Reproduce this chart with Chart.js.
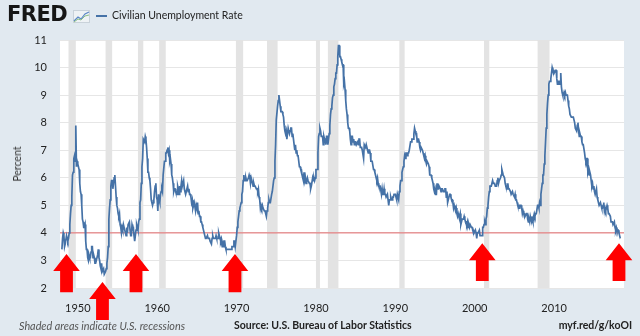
<!DOCTYPE html>
<html>
<head>
<meta charset="utf-8">
<script src="https://cdn.jsdelivr.net/npm/chart.js@4"></script>
<style>
  html, body { margin: 0; padding: 0; background: #e1e9f0; }
  #wrap { position: relative; width: 640px; height: 336px; overflow: hidden; background: #e1e9f0; font-family: Lato, "Open Sans", sans-serif; color: #222; }
  #chart { position: absolute; left: 0; top: 0; }
  .abs { position: absolute; white-space: nowrap; }
  #logo { left: 7px; top: 2px; font: bold 21px "DejaVu Sans", sans-serif; color: #161616; letter-spacing: -0.5px; }
  #icon { left: 73px; top: 10px; }
  #legLine { left: 96px; top: 15px; width: 11px; height: 2px; background: #4572a7; }
  #legText { left: 112px; top: 9px; font-size: 10.5px; color: #222; }
  #ylab { left: 17px; top: 164px; font-size: 10.5px; color: #333; transform: translate(-50%, -50%) rotate(-90deg); }
  #note { left: 19px; top: 319px; font-size: 10.8px; font-style: italic; color: #555; }
  #source { left: 234px; top: 319px; font-size: 10.5px; font-weight: bold; color: #222; }
  #link { right: 8px; top: 319px; font-size: 10.5px; font-weight: bold; color: #222; }
</style>
</head>
<body>
<div id="wrap">
  <canvas id="chart" width="640" height="336"></canvas>
  <div class="abs" id="logo">FRED</div>
  <svg class="abs" id="icon" width="17" height="13" viewBox="0 0 17 13">
    <rect x="0.5" y="0.5" width="16" height="12" fill="#eef2f5" stroke="#c9d2da"/>
    <polyline points="1,11 5,7 8,9 12,4 16,2" fill="none" stroke="#5b87c5" stroke-width="1.2"/>
    <polyline points="1,12 5,9 8,10 12,6 16,5" fill="none" stroke="#8cc084" stroke-width="1"/>
  </svg>
  <div class="abs" id="legLine"></div>
  <div class="abs" id="legText">Civilian Unemployment Rate</div>
  <div class="abs" id="ylab">Percent</div>
  <div class="abs" id="note">Shaded areas indicate U.S. recessions</div>
  <div class="abs" id="source">Source: U.S. Bureau of Labor Statistics</div>
  <div class="abs" id="link">myf.red/g/koOI</div>
</div>
<script>
// monthly unemployment rate (%), starting Jan 1948
const startYear = 1948;
const rate1940s = [
  3.4,3.8,4.0,3.9,3.5,3.6,3.6,3.9,3.8,3.7,3.8,4.0,
  4.3,4.7,5.0,5.3,6.1,6.2,6.7,6.8,6.6,7.9,6.4,6.6
];
const rate1950s = [
  6.5,6.4,6.3,5.8,5.5,5.4,5.0,4.5,4.4,4.2,4.2,4.3,
  3.7,3.4,3.4,3.1,3.0,3.2,3.1,3.1,3.3,3.5,3.5,3.1,
  3.2,3.1,2.9,2.9,3.0,3.0,3.2,3.4,3.1,3.0,2.8,2.7,
  2.9,2.6,2.6,2.7,2.5,2.5,2.6,2.7,2.9,3.1,3.5,4.5,
  4.9,5.2,5.7,5.9,5.9,5.6,5.8,6.0,6.1,5.7,5.3,5.0,
  4.9,4.7,4.6,4.7,4.3,4.2,4.0,4.2,4.1,4.3,4.2,4.2,
  4.0,3.9,4.2,4.0,4.3,4.3,4.4,4.1,3.9,3.9,4.3,4.2,
  4.2,3.9,3.7,3.9,4.1,4.3,4.2,4.1,4.4,4.5,5.1,5.2,
  5.8,6.4,6.7,7.4,7.4,7.3,7.5,7.4,7.1,6.7,6.2,6.2,
  6.0,5.9,5.6,5.2,5.1,5.0,5.1,5.2,5.5,5.7,5.8,5.3
];
const rate1960s = [
  5.2,4.8,5.4,5.2,5.1,5.4,5.5,5.6,5.5,6.1,6.1,6.6,
  6.6,6.9,6.9,7.0,7.1,6.9,7.0,6.6,6.7,6.5,6.1,6.0,
  5.8,5.5,5.6,5.6,5.5,5.5,5.4,5.7,5.6,5.4,5.7,5.5,
  5.7,5.9,5.7,5.7,5.9,5.6,5.6,5.4,5.5,5.5,5.7,5.5,
  5.6,5.4,5.4,5.3,5.1,5.2,4.9,5.0,5.1,5.1,4.8,5.0,
  4.9,5.1,4.7,4.8,4.6,4.6,4.4,4.4,4.3,4.2,4.1,4.0,
  4.0,3.8,3.8,3.8,3.9,3.8,3.8,3.8,3.7,3.7,3.6,3.8,
  3.9,3.8,3.8,3.8,3.8,3.9,3.8,3.8,3.8,4.0,3.9,3.8,
  3.7,3.8,3.7,3.5,3.5,3.7,3.7,3.5,3.4,3.4,3.4,3.4,
  3.4,3.4,3.4,3.4,3.4,3.5,3.5,3.5,3.7,3.7,3.5,3.5
];
const rate1970s = [
  3.9,4.2,4.4,4.6,4.8,4.9,5.0,5.1,5.4,5.5,5.9,6.1,
  5.9,5.9,6.0,5.9,5.9,5.9,6.0,6.1,6.0,5.8,6.0,6.0,
  5.8,5.7,5.8,5.7,5.7,5.7,5.6,5.6,5.5,5.6,5.3,5.2,
  4.9,5.0,4.9,5.0,4.9,4.9,4.8,4.8,4.8,4.6,4.8,4.9,
  5.1,5.2,5.1,5.1,5.1,5.4,5.5,5.5,5.9,6.0,6.6,7.2,
  8.1,8.1,8.6,8.8,9.0,8.8,8.6,8.4,8.4,8.4,8.3,8.2,
  7.9,7.7,7.6,7.7,7.4,7.6,7.8,7.8,7.6,7.7,7.8,7.8,
  7.5,7.6,7.4,7.2,7.0,7.2,6.9,7.0,6.8,6.8,6.8,6.4,
  6.4,6.3,6.3,6.1,6.0,5.9,6.2,5.9,6.0,5.8,5.9,6.0,
  5.9,5.9,5.8,5.8,5.6,5.7,5.7,6.0,5.9,6.0,5.9,6.0
];
const rate1980s = [
  6.3,6.3,6.3,6.9,7.5,7.6,7.8,7.7,7.5,7.5,7.5,7.2,
  7.5,7.4,7.4,7.2,7.5,7.5,7.2,7.4,7.6,7.9,8.3,8.5,
  8.6,8.9,9.0,9.3,9.4,9.6,9.8,9.8,10.1,10.4,10.8,10.8,
  10.4,10.4,10.3,10.2,10.1,10.1,9.4,9.5,9.2,8.8,8.5,8.3,
  8.0,7.8,7.8,7.7,7.4,7.2,7.5,7.5,7.3,7.4,7.2,7.3,
  7.3,7.2,7.2,7.3,7.2,7.4,7.4,7.1,7.1,7.1,7.0,7.0,
  6.7,7.2,7.2,7.1,7.2,7.2,7.0,6.9,7.0,7.0,6.9,6.6,
  6.6,6.6,6.6,6.3,6.3,6.2,6.1,6.0,5.9,6.0,5.8,5.7,
  5.7,5.7,5.7,5.4,5.6,5.4,5.4,5.6,5.4,5.4,5.3,5.3,
  5.4,5.2,5.0,5.2,5.2,5.3,5.2,5.2,5.3,5.3,5.4,5.4
];
const rate1990s = [
  5.4,5.3,5.2,5.4,5.4,5.2,5.5,5.7,5.9,5.9,6.2,6.3,
  6.4,6.6,6.8,6.7,6.9,6.9,6.8,6.9,6.9,7.0,7.0,7.3,
  7.3,7.4,7.4,7.4,7.6,7.8,7.7,7.6,7.6,7.3,7.4,7.4,
  7.3,7.1,7.0,7.1,7.1,7.0,6.9,6.8,6.7,6.8,6.6,6.5,
  6.6,6.6,6.5,6.4,6.1,6.1,6.1,6.0,5.9,5.8,5.6,5.5,
  5.6,5.4,5.4,5.8,5.6,5.6,5.7,5.7,5.6,5.5,5.6,5.6,
  5.6,5.5,5.5,5.6,5.6,5.3,5.5,5.1,5.2,5.2,5.4,5.4,
  5.3,5.2,5.2,5.1,4.9,5.0,4.9,4.8,4.9,4.7,4.6,4.7,
  4.6,4.6,4.7,4.3,4.4,4.5,4.5,4.5,4.6,4.5,4.4,4.4,
  4.3,4.4,4.2,4.3,4.2,4.3,4.3,4.2,4.2,4.1,4.1,4.0
];
const rate2000s = [
  4.0,4.1,4.0,3.8,4.0,4.0,4.0,4.1,3.9,3.9,3.9,3.9,
  4.2,4.2,4.3,4.4,4.3,4.5,4.6,4.9,5.0,5.3,5.5,5.7,
  5.7,5.7,5.7,5.9,5.8,5.8,5.8,5.7,5.7,5.7,5.9,6.0,
  5.8,5.9,5.9,6.0,6.1,6.3,6.2,6.1,6.1,6.0,5.8,5.7,
  5.7,5.6,5.8,5.6,5.6,5.6,5.5,5.4,5.4,5.5,5.4,5.4,
  5.3,5.4,5.2,5.2,5.1,5.0,5.0,4.9,5.0,5.0,5.0,4.9,
  4.7,4.8,4.7,4.7,4.6,4.6,4.7,4.7,4.5,4.4,4.5,4.4,
  4.6,4.5,4.4,4.5,4.4,4.6,4.7,4.6,4.7,4.7,4.7,5.0,
  5.0,4.9,5.1,5.0,5.4,5.6,5.8,6.1,6.1,6.5,6.8,7.3,
  7.8,8.3,8.7,9.0,9.4,9.5,9.5,9.6,9.8,10.0,9.9,9.9
];
const rate2010s = [
  9.8,9.8,9.9,9.9,9.6,9.4,9.4,9.5,9.5,9.4,9.8,9.3,
  9.1,9.0,9.0,9.1,9.0,9.1,9.0,9.0,9.0,8.8,8.6,8.5,
  8.3,8.3,8.2,8.2,8.2,8.2,8.2,8.0,7.8,7.8,7.7,7.9,
  8.0,7.7,7.5,7.6,7.5,7.5,7.3,7.2,7.2,7.2,6.9,6.7,
  6.6,6.7,6.7,6.2,6.3,6.1,6.2,6.1,5.9,5.7,5.8,5.6,
  5.7,5.5,5.4,5.4,5.6,5.3,5.2,5.1,5.0,5.0,5.1,5.0,
  4.9,4.9,5.0,5.1,4.8,4.9,4.8,4.9,5.0,4.9,4.7,4.7,
  4.7,4.6,4.4,4.4,4.4,4.3,4.3,4.4,4.2,4.1,4.2,4.1,
  4.1,4.1,4.0,3.9,3.8
];

const refLevel = 4;
const yearTicks = [1950, 1960, 1970, 1980, 1990, 2000, 2010];
const yTicks = [2, 3, 4, 5, 6, 7, 8, 9, 10, 11];
// NBER recessions, [start, end] in fractional years
const recessions = [
  [1948.83, 1949.75], [1953.5, 1954.33], [1957.58, 1958.25], [1960.25, 1961.08],
  [1969.92, 1970.83], [1973.83, 1975.17], [1980.0, 1980.5], [1981.5, 1982.83],
  [1990.5, 1991.17], [2001.17, 2001.83], [2007.92, 2009.42]
];
// red annotation arrows: year, tip value, tail value
const arrowYears = [1948.58, 1953.11, 1957.33, 1969.8, 2000.95, 2018.17];
const arrowTips  = [3.23, 2.22, 3.23, 3.23, 3.62, 3.62];
const arrowTails = [1.85, 0.84, 1.85, 1.85, 2.25, 2.25];

const xMin = 1947.76, xMax = 2018.8;

const rates = [].concat(rate1940s, rate1950s, rate1960s, rate1970s, rate1980s, rate1990s, rate2000s, rate2010s);
const points = rates.map((v, i) => ({ x: startYear + i / 12, y: v }));

const font = { family: 'Lato, "Open Sans", sans-serif', size: 11 };

const plotBg = {
  id: 'plotBg',
  beforeDraw(chart) {
    const { ctx, chartArea: a } = chart;
    ctx.save();
    ctx.fillStyle = '#ffffff';
    ctx.fillRect(a.left, a.top, a.right - a.left, a.bottom - a.top);
    ctx.restore();
  }
};

const shading = {
  id: 'shading',
  beforeDatasetsDraw(chart) {
    const { ctx, chartArea: a, scales: { x } } = chart;
    ctx.save();
    ctx.fillStyle = '#e3e3e3';
    recessions.forEach(([s, e]) => {
      const x0 = x.getPixelForValue(s), x1 = x.getPixelForValue(e);
      ctx.fillRect(x0, a.top, x1 - x0, a.bottom - a.top);
    });
    ctx.restore();
  }
};

const arrows = {
  id: 'arrows',
  afterDraw(chart) {
    const { ctx, scales: { x, y } } = chart;
    const headH = 17, headW = 13.3, shaftW = 6.4;
    ctx.save();
    ctx.fillStyle = '#ff0000';
    arrowYears.forEach((yr, i) => {
      const cx = x.getPixelForValue(yr);
      const tip = y.getPixelForValue(arrowTips[i]);
      const tail = y.getPixelForValue(arrowTails[i]);
      ctx.beginPath();
      ctx.moveTo(cx, tip);
      ctx.lineTo(cx + headW, tip + headH);
      ctx.lineTo(cx + shaftW, tip + headH);
      ctx.lineTo(cx + shaftW, tail);
      ctx.lineTo(cx - shaftW, tail);
      ctx.lineTo(cx - shaftW, tip + headH);
      ctx.lineTo(cx - headW, tip + headH);
      ctx.closePath();
      ctx.fill();
    });
    ctx.restore();
  }
};

new Chart(document.getElementById('chart'), {
  type: 'line',
  data: {
    datasets: [
      {
        data: points,
        borderColor: '#4572a7',
        borderWidth: 1.7,
        pointRadius: 0,
        tension: 0
      },
      {
        data: [{ x: xMin, y: refLevel }, { x: xMax, y: refLevel }],
        borderColor: '#e4686b',
        borderWidth: 1,
        pointRadius: 0
      }
    ]
  },
  options: {
    responsive: false,
    animation: false,
    layout: { padding: { top: 40, right: 16, left: 0, bottom: 0 } },
    plugins: { legend: { display: false }, tooltip: { enabled: false } },
    scales: {
      x: {
        type: 'linear',
        min: xMin,
        max: xMax,
        grid: { display: false },
        border: { display: false },
        ticks: { color: '#222', font, padding: 6, maxRotation: 0, callback: v => String(v) },
        afterBuildTicks: s => { s.ticks = yearTicks.map(v => ({ value: v })); },
        afterFit: s => { s.height = 48; }
      },
      y: {
        min: 2,
        max: 11,
        grid: { color: '#e6e6e6', drawTicks: false },
        border: { display: false },
        ticks: { color: '#222', font, padding: 13 },
        afterBuildTicks: s => { s.ticks = yTicks.map(v => ({ value: v })); },
        afterFit: s => { s.width = 60; }
      }
    }
  },
  plugins: [plotBg, shading, arrows]
});
</script>
</body>
</html>
